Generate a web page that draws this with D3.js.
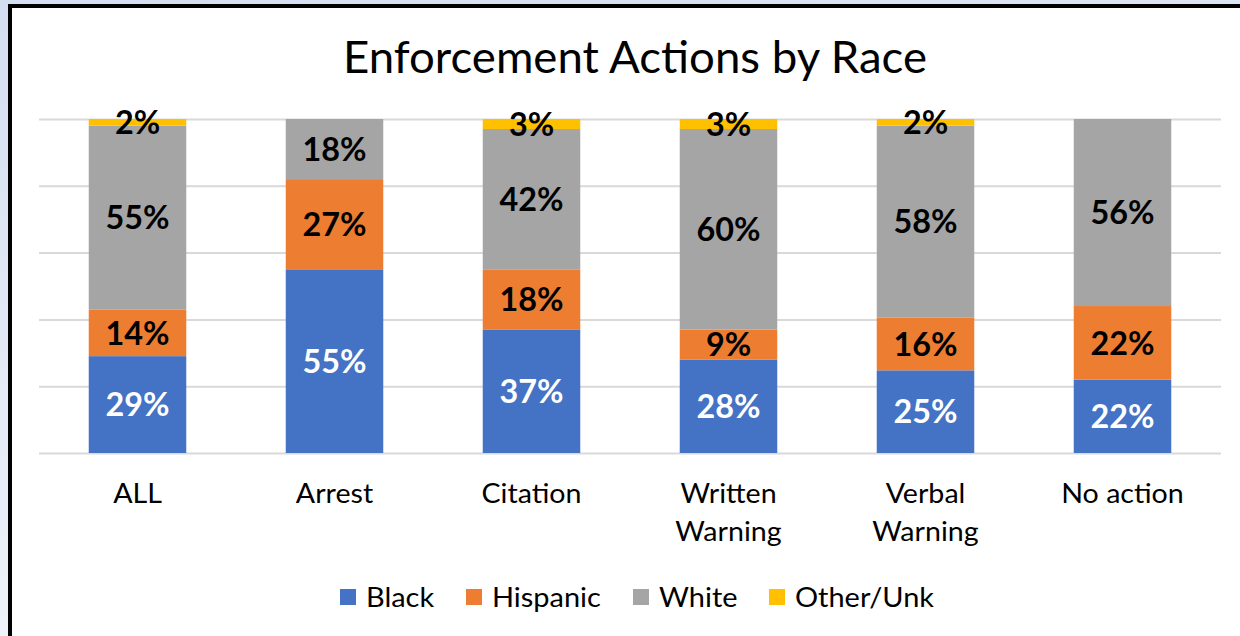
<!DOCTYPE html>
<html><head><meta charset="utf-8">
<script src="https://cdn.jsdelivr.net/npm/d3@7"></script>
<style>
html,body{margin:0;padding:0;}
body{width:1240px;height:636px;overflow:hidden;background:linear-gradient(170deg,#d3def0 0%,#e6ecf7 50%,#f7f9fd 100%);}
svg{display:block;}
</style></head>
<body>
<svg id="c" width="1240" height="636"></svg>
<script>
const categories = ["ALL","Arrest","Citation","Written Warning","Verbal Warning","No action"];
const seriesNames = ["Black","Hispanic","White","Other/Unk"];
const black    = [29,55,37,28,25,22];
const hispanic = [14,27,18, 9,16,22];
const white    = [55,18,42,60,58,56];
const other    = [ 2, 0, 3, 3, 2, 0];
const yTicks = [0,0.2,0.4,0.6,0.8,1.0];
const colors = ["#4472c4","#ed7d31","#a5a5a5","#ffc000"];
const labelColors = ["#ffffff","#000000","#000000","#000000"];

const FONT = "Lato, 'Open Sans', sans-serif";
const CAP = 0.7165; // Lato cap height ratio
const svg = d3.select("#c");

// frame
svg.append("rect").attr("x",10).attr("y",6).attr("width",1240).attr("height",640)
  .attr("fill","#ffffff").attr("stroke","#000").attr("stroke-width",4);

const rows = categories.map((c,i)=>({cat:c,"Black":black[i],"Hispanic":hispanic[i],"White":white[i],"Other/Unk":other[i]}));
const stack = d3.stack().keys(seriesNames).offset(d3.stackOffsetExpand)(rows);

const x = d3.scaleBand().domain(categories).range([39,1221]).paddingInner(0.505).paddingOuter(0.2525);
const y = d3.scaleLinear().domain([0,1]).range([453,119]);

// font fit: size from cap height, horizontal scale from target width
function fit(text, weight, capPx, targetW){
  const fs = capPx/CAP;
  const t = svg.append("text").attr("font-family",FONT).attr("font-weight",weight).attr("font-size",fs).text(text);
  const w = t.node().getComputedTextLength(); t.remove();
  return {fs, sx: targetW/w};
}
const titleF = fit("Enforcement Actions by Race","normal",32,584);
const catF = fit("Citation","normal",19,100);
const lblF = fit("55%","bold",23.5,64);
const legF = fit("Other/Unk","normal",20,139);

// gridlines
svg.append("g").attr("transform","translate(39,0)")
  .call(d3.axisLeft(y).tickValues(yTicks).tickSize(-1182).tickFormat(""))
  .call(g=>g.select(".domain").remove())
  .call(g=>g.selectAll("line").attr("stroke","#d9d9d9").attr("stroke-width",2));

// bars
const layers = svg.append("g").selectAll("g").data(stack).join("g").attr("fill",(d,i)=>colors[i]);
layers.selectAll("rect").data(d=>d).join("rect")
  .attr("x",d=>x(d.data.cat)).attr("width",x.bandwidth())
  .attr("y",d=>y(d[1])).attr("height",d=>Math.max(0,y(d[0])-y(d[1])));

// data labels
stack.forEach((layer,si)=>{
  const key = layer.key;
  svg.append("g").selectAll("g").data(layer.filter(d=>d.data[key]>0)).join("g")
    .attr("transform",d=>`translate(${x(d.data.cat)+x.bandwidth()/2},${(y(d[0])+y(d[1]))/2 + 23.5/2}) scale(${lblF.sx},1)`)
    .append("text")
    .attr("text-anchor","middle").attr("font-family",FONT).attr("font-weight","bold")
    .attr("font-size",lblF.fs).attr("fill",labelColors[si])
    .text(d=>d.data[key]+"%");
});

// x axis labels
const xa = svg.append("g").attr("transform","translate(0,453)")
  .call(d3.axisBottom(x).tickSize(0).tickFormat(""));
xa.select(".domain").remove();
xa.selectAll(".tick").each(function(d){
  const lines = (d==="No action") ? [d] : d.split(" ");
  const t = d3.select(this).append("text").attr("fill","#000").attr("font-family",FONT)
    .attr("font-size",catF.fs).attr("text-anchor","middle")
    .attr("transform",`scale(${catF.sx},1)`);
  lines.forEach((l,i)=>t.append("tspan").attr("x",0).attr("y",50+i*38).text(l));
});

// title
svg.append("g").attr("transform",`translate(635,73) scale(${titleF.sx},1)`)
  .append("text").attr("text-anchor","middle")
  .attr("font-family",FONT).attr("font-size",titleF.fs).attr("fill","#000")
  .text("Enforcement Actions by Race");

// legend
const legX = [340,466,633,769];
const leg = svg.append("g").selectAll("g").data(seriesNames).join("g")
  .attr("transform",(d,i)=>`translate(${legX[i]},589)`);
leg.append("rect").attr("width",16).attr("height",16).attr("fill",(d,i)=>colors[i]);
leg.append("g").attr("transform",`translate(26,17.5) scale(${legF.sx},1)`)
  .append("text").attr("font-family",FONT).attr("font-size",legF.fs)
  .attr("fill","#000").text(d=>d);
</script>
</body></html>
